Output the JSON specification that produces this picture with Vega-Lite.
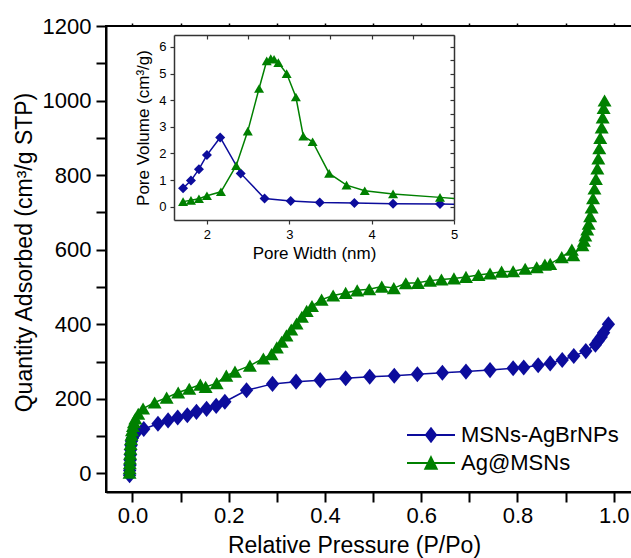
{
  "$schema": "https://vega.github.io/schema/vega-lite/v6.json",
  "width": 526,
  "height": 466,
  "autosize": {"type": "none"},
  "padding": {"left": 106, "top": 26, "right": 0, "bottom": 66},
  "background": "white",
  "config": {
    "font": "Liberation Sans",
    "view": {"stroke": "black", "strokeWidth": 2},
    "axis": {"grid": false, "labelColor": "black", "titleColor": "black", "titleFontWeight": "normal", "labelFont": "Liberation Sans", "titleFont": "Liberation Sans", "labelOverlap": false, "labelFlush": false}
  },
  "datasets": {
    "iso": [
      {"p": -0.006, "v": -5, "s": "MSNs-AgBrNPs"},
      {"p": -0.0058, "v": 8, "s": "MSNs-AgBrNPs"},
      {"p": -0.0052, "v": 22, "s": "MSNs-AgBrNPs"},
      {"p": -0.0048, "v": 36, "s": "MSNs-AgBrNPs"},
      {"p": -0.0042, "v": 50, "s": "MSNs-AgBrNPs"},
      {"p": -0.0038, "v": 63, "s": "MSNs-AgBrNPs"},
      {"p": -0.003, "v": 75, "s": "MSNs-AgBrNPs"},
      {"p": -0.002, "v": 86, "s": "MSNs-AgBrNPs"},
      {"p": 0.0, "v": 95, "s": "MSNs-AgBrNPs"},
      {"p": 0.003, "v": 103, "s": "MSNs-AgBrNPs"},
      {"p": 0.008, "v": 110, "s": "MSNs-AgBrNPs"},
      {"p": 0.0235, "v": 119, "s": "MSNs-AgBrNPs"},
      {"p": 0.053, "v": 133, "s": "MSNs-AgBrNPs"},
      {"p": 0.074, "v": 142, "s": "MSNs-AgBrNPs"},
      {"p": 0.094, "v": 150, "s": "MSNs-AgBrNPs"},
      {"p": 0.114, "v": 156, "s": "MSNs-AgBrNPs"},
      {"p": 0.133, "v": 165, "s": "MSNs-AgBrNPs"},
      {"p": 0.154, "v": 173, "s": "MSNs-AgBrNPs"},
      {"p": 0.174, "v": 181, "s": "MSNs-AgBrNPs"},
      {"p": 0.192, "v": 192, "s": "MSNs-AgBrNPs"},
      {"p": 0.237, "v": 223, "s": "MSNs-AgBrNPs"},
      {"p": 0.291, "v": 240, "s": "MSNs-AgBrNPs"},
      {"p": 0.34, "v": 246, "s": "MSNs-AgBrNPs"},
      {"p": 0.39, "v": 250, "s": "MSNs-AgBrNPs"},
      {"p": 0.443, "v": 255, "s": "MSNs-AgBrNPs"},
      {"p": 0.493, "v": 259, "s": "MSNs-AgBrNPs"},
      {"p": 0.544, "v": 262, "s": "MSNs-AgBrNPs"},
      {"p": 0.592, "v": 266, "s": "MSNs-AgBrNPs"},
      {"p": 0.644, "v": 270, "s": "MSNs-AgBrNPs"},
      {"p": 0.693, "v": 273, "s": "MSNs-AgBrNPs"},
      {"p": 0.743, "v": 277, "s": "MSNs-AgBrNPs"},
      {"p": 0.791, "v": 282, "s": "MSNs-AgBrNPs"},
      {"p": 0.813, "v": 284, "s": "MSNs-AgBrNPs"},
      {"p": 0.843, "v": 290, "s": "MSNs-AgBrNPs"},
      {"p": 0.868, "v": 295, "s": "MSNs-AgBrNPs"},
      {"p": 0.893, "v": 304, "s": "MSNs-AgBrNPs"},
      {"p": 0.917, "v": 315, "s": "MSNs-AgBrNPs"},
      {"p": 0.942, "v": 328, "s": "MSNs-AgBrNPs"},
      {"p": 0.962, "v": 345, "s": "MSNs-AgBrNPs"},
      {"p": 0.968, "v": 356, "s": "MSNs-AgBrNPs"},
      {"p": 0.974, "v": 366, "s": "MSNs-AgBrNPs"},
      {"p": 0.979, "v": 377, "s": "MSNs-AgBrNPs"},
      {"p": 0.989, "v": 400, "s": "MSNs-AgBrNPs"},
      {"p": -0.006, "v": 2, "s": "Ag@MSNs"},
      {"p": -0.0059, "v": 14, "s": "Ag@MSNs"},
      {"p": -0.0055, "v": 27, "s": "Ag@MSNs"},
      {"p": -0.0052, "v": 40, "s": "Ag@MSNs"},
      {"p": -0.0049, "v": 53, "s": "Ag@MSNs"},
      {"p": -0.0043, "v": 66, "s": "Ag@MSNs"},
      {"p": -0.0039, "v": 79, "s": "Ag@MSNs"},
      {"p": -0.003, "v": 92, "s": "Ag@MSNs"},
      {"p": -0.002, "v": 104, "s": "Ag@MSNs"},
      {"p": -0.001, "v": 116, "s": "Ag@MSNs"},
      {"p": 0.001, "v": 127, "s": "Ag@MSNs"},
      {"p": 0.003, "v": 137, "s": "Ag@MSNs"},
      {"p": 0.006, "v": 147, "s": "Ag@MSNs"},
      {"p": 0.012, "v": 160, "s": "Ag@MSNs"},
      {"p": 0.022, "v": 174, "s": "Ag@MSNs"},
      {"p": 0.046, "v": 190, "s": "Ag@MSNs"},
      {"p": 0.071, "v": 203, "s": "Ag@MSNs"},
      {"p": 0.095, "v": 217, "s": "Ag@MSNs"},
      {"p": 0.118, "v": 227, "s": "Ag@MSNs"},
      {"p": 0.141, "v": 238, "s": "Ag@MSNs"},
      {"p": 0.152, "v": 232, "s": "Ag@MSNs"},
      {"p": 0.175, "v": 242, "s": "Ag@MSNs"},
      {"p": 0.195, "v": 262, "s": "Ag@MSNs"},
      {"p": 0.213, "v": 273, "s": "Ag@MSNs"},
      {"p": 0.244, "v": 289, "s": "Ag@MSNs"},
      {"p": 0.272, "v": 308, "s": "Ag@MSNs"},
      {"p": 0.289, "v": 320, "s": "Ag@MSNs"},
      {"p": 0.3, "v": 338, "s": "Ag@MSNs"},
      {"p": 0.31, "v": 353, "s": "Ag@MSNs"},
      {"p": 0.32, "v": 370, "s": "Ag@MSNs"},
      {"p": 0.33, "v": 386, "s": "Ag@MSNs"},
      {"p": 0.341, "v": 402, "s": "Ag@MSNs"},
      {"p": 0.352, "v": 420, "s": "Ag@MSNs"},
      {"p": 0.362, "v": 436, "s": "Ag@MSNs"},
      {"p": 0.373, "v": 449, "s": "Ag@MSNs"},
      {"p": 0.393, "v": 466, "s": "Ag@MSNs"},
      {"p": 0.417, "v": 477, "s": "Ag@MSNs"},
      {"p": 0.443, "v": 484, "s": "Ag@MSNs"},
      {"p": 0.467, "v": 491, "s": "Ag@MSNs"},
      {"p": 0.492, "v": 494, "s": "Ag@MSNs"},
      {"p": 0.518, "v": 501, "s": "Ag@MSNs"},
      {"p": 0.543, "v": 497, "s": "Ag@MSNs"},
      {"p": 0.568, "v": 510, "s": "Ag@MSNs"},
      {"p": 0.593, "v": 511, "s": "Ag@MSNs"},
      {"p": 0.618, "v": 517, "s": "Ag@MSNs"},
      {"p": 0.642, "v": 520, "s": "Ag@MSNs"},
      {"p": 0.668, "v": 523, "s": "Ag@MSNs"},
      {"p": 0.693, "v": 527, "s": "Ag@MSNs"},
      {"p": 0.719, "v": 532, "s": "Ag@MSNs"},
      {"p": 0.743, "v": 536, "s": "Ag@MSNs"},
      {"p": 0.767, "v": 541, "s": "Ag@MSNs"},
      {"p": 0.791, "v": 542, "s": "Ag@MSNs"},
      {"p": 0.816, "v": 549, "s": "Ag@MSNs"},
      {"p": 0.84, "v": 553, "s": "Ag@MSNs"},
      {"p": 0.857, "v": 560, "s": "Ag@MSNs"},
      {"p": 0.868, "v": 562, "s": "Ag@MSNs"},
      {"p": 0.892, "v": 580, "s": "Ag@MSNs"},
      {"p": 0.913, "v": 600, "s": "Ag@MSNs"},
      {"p": 0.916, "v": 585, "s": "Ag@MSNs"},
      {"p": 0.935, "v": 612, "s": "Ag@MSNs"},
      {"p": 0.938, "v": 624, "s": "Ag@MSNs"},
      {"p": 0.941, "v": 638, "s": "Ag@MSNs"},
      {"p": 0.945, "v": 654, "s": "Ag@MSNs"},
      {"p": 0.948, "v": 670, "s": "Ag@MSNs"},
      {"p": 0.951, "v": 690, "s": "Ag@MSNs"},
      {"p": 0.954, "v": 713, "s": "Ag@MSNs"},
      {"p": 0.957, "v": 738, "s": "Ag@MSNs"},
      {"p": 0.96, "v": 764, "s": "Ag@MSNs"},
      {"p": 0.963, "v": 790, "s": "Ag@MSNs"},
      {"p": 0.966, "v": 818, "s": "Ag@MSNs"},
      {"p": 0.968, "v": 845, "s": "Ag@MSNs"},
      {"p": 0.97, "v": 872, "s": "Ag@MSNs"},
      {"p": 0.972, "v": 900, "s": "Ag@MSNs"},
      {"p": 0.975, "v": 928, "s": "Ag@MSNs"},
      {"p": 0.977, "v": 955, "s": "Ag@MSNs"},
      {"p": 0.979, "v": 980, "s": "Ag@MSNs"},
      {"p": 0.981, "v": 1000, "s": "Ag@MSNs"}
    ],
    "psd": [
      {"w": 1.71, "pv": 0.69, "s": "MSNs-AgBrNPs"},
      {"w": 1.806, "pv": 0.98, "s": "MSNs-AgBrNPs"},
      {"w": 1.903, "pv": 1.41, "s": "MSNs-AgBrNPs"},
      {"w": 2.0, "pv": 1.94, "s": "MSNs-AgBrNPs"},
      {"w": 2.161, "pv": 2.6, "s": "MSNs-AgBrNPs"},
      {"w": 2.41, "pv": 1.25, "s": "MSNs-AgBrNPs"},
      {"w": 2.7, "pv": 0.31, "s": "MSNs-AgBrNPs"},
      {"w": 3.017, "pv": 0.21, "s": "MSNs-AgBrNPs"},
      {"w": 3.37, "pv": 0.16, "s": "MSNs-AgBrNPs"},
      {"w": 3.79, "pv": 0.14, "s": "MSNs-AgBrNPs"},
      {"w": 4.26, "pv": 0.11, "s": "MSNs-AgBrNPs"},
      {"w": 4.83, "pv": 0.1, "s": "MSNs-AgBrNPs"},
      {"w": 5.0, "pv": 0.09, "s": "MSNs-AgBrNPs"},
      {"w": 1.71, "pv": 0.19, "s": "Ag@MSNs"},
      {"w": 1.806, "pv": 0.24, "s": "Ag@MSNs"},
      {"w": 1.903, "pv": 0.3, "s": "Ag@MSNs"},
      {"w": 2.0, "pv": 0.41, "s": "Ag@MSNs"},
      {"w": 2.17, "pv": 0.56, "s": "Ag@MSNs"},
      {"w": 2.355, "pv": 1.54, "s": "Ag@MSNs"},
      {"w": 2.496, "pv": 2.84, "s": "Ag@MSNs"},
      {"w": 2.633, "pv": 4.44, "s": "Ag@MSNs"},
      {"w": 2.726, "pv": 5.48, "s": "Ag@MSNs"},
      {"w": 2.775, "pv": 5.56, "s": "Ag@MSNs"},
      {"w": 2.815, "pv": 5.54, "s": "Ag@MSNs"},
      {"w": 2.867, "pv": 5.41, "s": "Ag@MSNs"},
      {"w": 2.968, "pv": 5.0, "s": "Ag@MSNs"},
      {"w": 3.08, "pv": 4.12, "s": "Ag@MSNs"},
      {"w": 3.17, "pv": 2.65, "s": "Ag@MSNs"},
      {"w": 3.283, "pv": 2.44, "s": "Ag@MSNs"},
      {"w": 3.484, "pv": 1.25, "s": "Ag@MSNs"},
      {"w": 3.695, "pv": 0.81, "s": "Ag@MSNs"},
      {"w": 3.916, "pv": 0.6, "s": "Ag@MSNs"},
      {"w": 4.26, "pv": 0.48, "s": "Ag@MSNs"},
      {"w": 4.83, "pv": 0.35, "s": "Ag@MSNs"},
      {"w": 5.0, "pv": 0.31, "s": "Ag@MSNs"}
    ]
  },
  "layer": [
    {
      "data": {"name": "iso"},
      "resolve": {"axis": {"x": "independent", "y": "independent"}},
      "layer": [
        {
          "mark": {"type": "line", "strokeWidth": 1.5},
          "encoding": {
            "x": {"field": "p", "type": "quantitative", "scale": {"domain": [-0.055, 1.038], "nice": false, "zero": false},
              "axis": {"orient": "bottom", "values": [0, 0.1, 0.2, 0.3, 0.4, 0.5, 0.6, 0.7, 0.8, 0.9, 1.0], "format": ".1f",
                "labelExpr": "round(datum.value*10) % 2 == 0 ? datum.label : ''",
                "title": "Relative Pressure (P/Po)", "tickSize": 10, "tickWidth": 2, "tickColor": "black", "domainWidth": 2, "domainColor": "black",
                "labelFontSize": 22, "labelPadding": 3, "titleFontSize": 23, "titlePadding": 8, "titleX": 248}},
            "y": {"field": "v", "type": "quantitative", "scale": {"domain": [-50, 1200], "nice": false, "zero": false},
              "axis": {"orient": "left", "values": [0, 100, 200, 300, 400, 500, 600, 700, 800, 900, 1000, 1100, 1200], "format": "d",
                "labelExpr": "datum.value % 200 == 0 ? datum.label : ''",
                "title": "Quantity Adsorbed (cm³/g STP)", "tickSize": 10, "tickWidth": 2, "tickColor": "black", "domainWidth": 2, "domainColor": "black",
                "labelFontSize": 22, "labelPadding": 5, "titleFontSize": 23, "titlePadding": 6, "titleY": 226}},
            "color": {"field": "s", "type": "nominal", "scale": {"domain": ["MSNs-AgBrNPs", "Ag@MSNs"], "range": ["#0c0c9c", "#008000"]}, "legend": null}
          }
        },
        {
          "mark": {"type": "point", "filled": true, "opacity": 1, "size": 196},
          "encoding": {
            "x": {"field": "p", "type": "quantitative", "scale": {"domain": [-0.055, 1.038], "nice": false, "zero": false},
              "axis": {"orient": "top", "values": [0, 0.1, 0.2, 0.3, 0.4, 0.5, 0.6, 0.7, 0.8, 0.9, 1.0], "labels": false, "domain": false, "tickSize": 3, "tickWidth": 1.5, "tickColor": "black", "title": null}},
            "y": {"field": "v", "type": "quantitative", "scale": {"domain": [-50, 1200], "nice": false, "zero": false},
              "axis": {"orient": "right", "labels": false, "domain": false, "ticks": false, "title": null}},
            "color": {"field": "s", "type": "nominal", "scale": {"domain": ["MSNs-AgBrNPs", "Ag@MSNs"], "range": ["#0c0c9c", "#008000"]}, "legend": null},
            "shape": {"field": "s", "type": "nominal", "scale": {"domain": ["MSNs-AgBrNPs", "Ag@MSNs"], "range": ["M0,-1.15L0.95,0L0,1.15L-0.95,0Z", "triangle-up"]}, "legend": null}
          }
        }
      ]
    },
    {
      "data": {"name": "psd"},
      "resolve": {"axis": {"x": "independent", "y": "independent"}},
      "layer": [
        {
          "mark": {"type": "line", "strokeWidth": 1.5},
          "encoding": {
            "x": {"field": "w", "type": "quantitative", "scale": {"domain": [1.6, 5], "range": [68, 348], "nice": false, "zero": false},
              "axis": {"orient": "bottom", "offset": -272, "values": [2, 2.5, 3, 3.5, 4, 4.5, 5], "format": "d",
                "labelExpr": "datum.value % 1 == 0 ? datum.label : ''",
                "title": "Pore Width (nm)", "tickSize": 4, "tickWidth": 1.2, "tickColor": "#333", "domainWidth": 1.5, "domainColor": "#333",
                "labelFontSize": 13, "labelPadding": 4, "titleFontSize": 17, "titlePadding": 4}},
            "y": {"field": "pv", "type": "quantitative", "scale": {"domain": [-0.5, 6.45], "range": [194, 9], "nice": false, "zero": false},
              "axis": {"orient": "left", "offset": -68, "values": [0, 1, 2, 3, 4, 5, 6], "format": "d",
                "title": "Pore Volume (cm³/g)", "tickSize": 4, "tickWidth": 1.2, "tickColor": "#333", "domainWidth": 1.5, "domainColor": "#333",
                "labelFontSize": 13, "labelPadding": 4, "titleFontSize": 17, "titlePadding": 6}},
            "color": {"field": "s", "type": "nominal", "scale": {"domain": ["MSNs-AgBrNPs", "Ag@MSNs"], "range": ["#0c0c9c", "#008000"]}, "legend": null}
          }
        },
        {
          "transform": [{"filter": "datum.w < 4.95"}],
          "mark": {"type": "point", "filled": true, "opacity": 1, "size": 100},
          "encoding": {
            "x": {"field": "w", "type": "quantitative", "scale": {"domain": [1.6, 5], "range": [68, 348], "nice": false, "zero": false},
              "axis": {"orient": "top", "offset": -9, "values": [2, 2.5, 3, 3.5, 4, 4.5, 5], "labels": false, "tickSize": -4, "tickWidth": 1.2, "tickColor": "#333", "domainWidth": 1.5, "domainColor": "#333", "title": null}},
            "y": {"field": "pv", "type": "quantitative", "scale": {"domain": [-0.5, 6.45], "range": [194, 9], "nice": false, "zero": false},
              "axis": {"orient": "right", "offset": -178, "values": [0, 0.5, 1, 1.5, 2, 2.5, 3, 3.5, 4, 4.5, 5, 5.5, 6], "labels": false, "tickSize": -4, "tickWidth": 1.2, "tickColor": "#333", "domainWidth": 1.5, "domainColor": "#333", "title": null}},
            "color": {"field": "s", "type": "nominal", "scale": {"domain": ["MSNs-AgBrNPs", "Ag@MSNs"], "range": ["#0c0c9c", "#008000"]}, "legend": null},
            "shape": {"field": "s", "type": "nominal", "scale": {"domain": ["MSNs-AgBrNPs", "Ag@MSNs"], "range": ["diamond", "triangle-up"]}, "legend": null}
          }
        }
      ]
    },
    {
      "data": {"name": "iso"},
      "transform": [{"filter": "datum.v > 5000"}],
      "mark": {"type": "point", "filled": true, "opacity": 1},
      "encoding": {
        "fill": {"field": "s", "type": "nominal", "scale": {"domain": ["MSNs-AgBrNPs", "Ag@MSNs"], "range": ["#0c0c9c", "#008000"]},
          "legend": {"title": null, "orient": "none", "legendX": 312, "legendY": 396, "symbolSize": 576, "symbolStrokeWidth": 2, "labelFontSize": 22, "labelOffset": 17, "rowPadding": 4, "padding": 0, "labelColor": "black", "labelFont": "Liberation Sans", "labelLimit": 400}},
        "stroke": {"field": "s", "type": "nominal", "scale": {"domain": ["MSNs-AgBrNPs", "Ag@MSNs"], "range": ["#0c0c9c", "#008000"]},
          "legend": {"title": null, "orient": "none", "legendX": 312, "legendY": 396, "symbolSize": 576, "symbolStrokeWidth": 2, "labelFontSize": 22, "labelOffset": 17, "rowPadding": 4, "padding": 0, "labelColor": "black", "labelFont": "Liberation Sans", "labelLimit": 400}},
        "shape": {"field": "s", "type": "nominal", "scale": {"domain": ["MSNs-AgBrNPs", "Ag@MSNs"], "range": ["M-2,0H2M0,-0.55L0.42,0L0,0.55L-0.42,0Z", "M-2,0H2M0,-0.47L0.47,0.47L-0.47,0.47Z"]},
          "legend": {"title": null, "orient": "none", "legendX": 312, "legendY": 396, "symbolSize": 576, "symbolStrokeWidth": 2, "labelFontSize": 22, "labelOffset": 17, "rowPadding": 4, "padding": 0, "labelColor": "black", "labelFont": "Liberation Sans", "labelLimit": 400}}
      }
    }
  ],
  "resolve": {"scale": {"x": "independent", "y": "independent", "shape": "independent", "fill": "independent", "stroke": "independent"}}
}
